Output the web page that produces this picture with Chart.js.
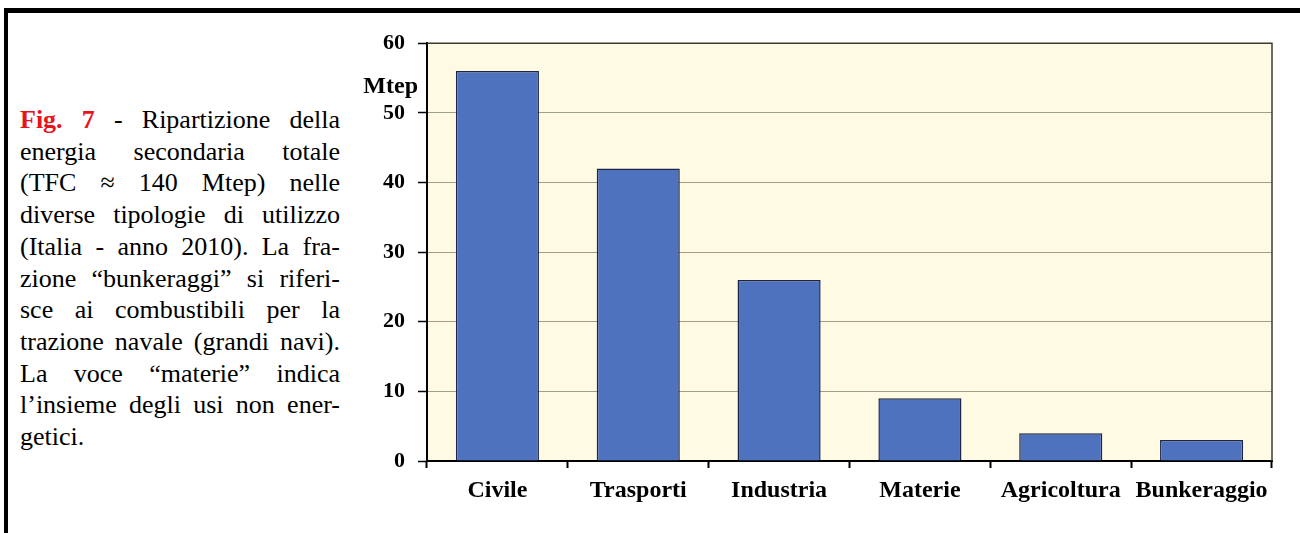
<!DOCTYPE html>
<html>
<head>
<meta charset="utf-8">
<script src="https://cdn.jsdelivr.net/npm/chart.js@4.4.1/dist/chart.umd.min.js"></script>
<style>
  html, body { margin: 0; padding: 0; background: #fff; }
  body { width: 1300px; height: 533px; position: relative; overflow: hidden;
         font-family: "Liberation Serif", "Times New Roman", serif; }
  .frame-top { position: absolute; left: 4px; top: 8px; width: 1296px; height: 5px; background: #000; }
  .frame-left { position: absolute; left: 4px; top: 8px; width: 4px; height: 525px; background: #000; }
  .caption { position: absolute; left: 20px; top: 104px; width: 320px;
             font-size: 26px; line-height: 31.7px; color: #000; }
  .caption div { text-align: justify; text-align-last: justify; }
  .caption div.last { text-align-last: left; }
  .caption b { color: #e8141c; }
  .chart-box { position: absolute; left: 340px; top: 17px; width: 950px; height: 503px; }
</style>
</head>
<body>
<div class="frame-top"></div>
<div class="frame-left"></div>

<div class="caption">
  <div><b>Fig. 7</b> - Ripartizione della</div>
  <div>energia secondaria totale</div>
  <div>(TFC ≈ 140 Mtep) nelle</div>
  <div>diverse tipologie di utilizzo</div>
  <div>(Italia - anno 2010). La fra-</div>
  <div>zione “bunkeraggi” si riferi-</div>
  <div>sce ai combustibili per la</div>
  <div>trazione navale (grandi navi).</div>
  <div>La voce “materie” indica</div>
  <div>l’insieme degli usi non ener-</div>
  <div class="last">getici.</div>
</div>

<div class="chart-box"><canvas id="consumiChart"></canvas></div>

<script>
// dati (Mtep, 2010)
const categories = ['Civile', 'Trasporti', 'Industria', 'Materie', 'Agricoltura', 'Bunkeraggio'];
const consumi = [56, 42, 26, 9, 4, 3];
const yTicks = [0, 10, 20, 30, 40, 50, 60];
const unitLabel = 'Mtep';

// sfondo crema dell'area del grafico, bordo sopra/destra e etichetta "Mtep"
const plotFrame = {
    id: 'plotFrame',
    beforeDraw(chart) {
        const { ctx, chartArea: a } = chart;
        ctx.save();
        ctx.fillStyle = '#fffae3';
        ctx.fillRect(a.left, a.top, a.right - a.left, a.bottom - a.top);
        ctx.restore();
    },
    afterDraw(chart) {
        const { ctx, chartArea: a } = chart;
        ctx.save();
        ctx.strokeStyle = '#3b3b30';
        ctx.lineWidth = 1.5;
        ctx.beginPath();
        ctx.moveTo(a.left, a.top);
        ctx.lineTo(a.right, a.top);
        ctx.lineTo(a.right, a.bottom);
        ctx.stroke();
        ctx.fillStyle = '#000';
        ctx.font = 'bold 24px "Liberation Serif", serif';
        ctx.textAlign = 'right';
        ctx.textBaseline = 'middle';
        ctx.fillText(unitLabel, a.left - 9, a.top + 44);
        ctx.restore();
    }
};

document.addEventListener('DOMContentLoaded', () => {
    const ctx = document.getElementById('consumiChart').getContext('2d');
    new Chart(ctx, {
        type: 'bar',
        data: {
            labels: categories,
            datasets: [{
                data: consumi,
                backgroundColor: '#4f72bf',
                borderColor: '#1d2647',
                borderWidth: 1.5,
                categoryPercentage: 1,
                barPercentage: 0.59
            }]
        },
        options: {
            responsive: true,
            maintainAspectRatio: false,
            animation: false,
            layout: { padding: { top: 21, right: 18, left: 0, bottom: 0 } },
            plugins: {
                legend: { display: false },
                tooltip: { enabled: false }
            },
            scales: {
                x: {
                    afterFit: (scale) => { scale.height = 59; },
                    grid: {
                        drawOnChartArea: false,
                        drawTicks: true,
                        tickLength: 7,
                        tickColor: '#000',
                        tickWidth: 2
                    },
                    border: { display: true, color: '#000', width: 2 },
                    ticks: {
                        autoSkip: false,
                        maxRotation: 0,
                        padding: 8,
                        color: '#000',
                        font: { family: '"Liberation Serif", serif', size: 24, weight: 'bold' }
                    }
                },
                y: {
                    min: yTicks[0],
                    max: yTicks[yTicks.length - 1],
                    afterFit: (scale) => { scale.width = 87; },
                    afterBuildTicks: (scale) => { scale.ticks = yTicks.map(v => ({ value: v })); },
                    grid: {
                        color: '#a39d88',
                        lineWidth: 1,
                        tickLength: 9,
                        tickColor: '#000',
                        tickWidth: 1.5
                    },
                    border: { display: true, color: '#000', width: 2 },
                    ticks: {
                        padding: 13,
                        color: '#000',
                        font: { family: '"Liberation Serif", serif', size: 22, weight: 'bold' }
                    }
                }
            }
        },
        plugins: [plotFrame]
    });
});
</script>
</body>
</html>
